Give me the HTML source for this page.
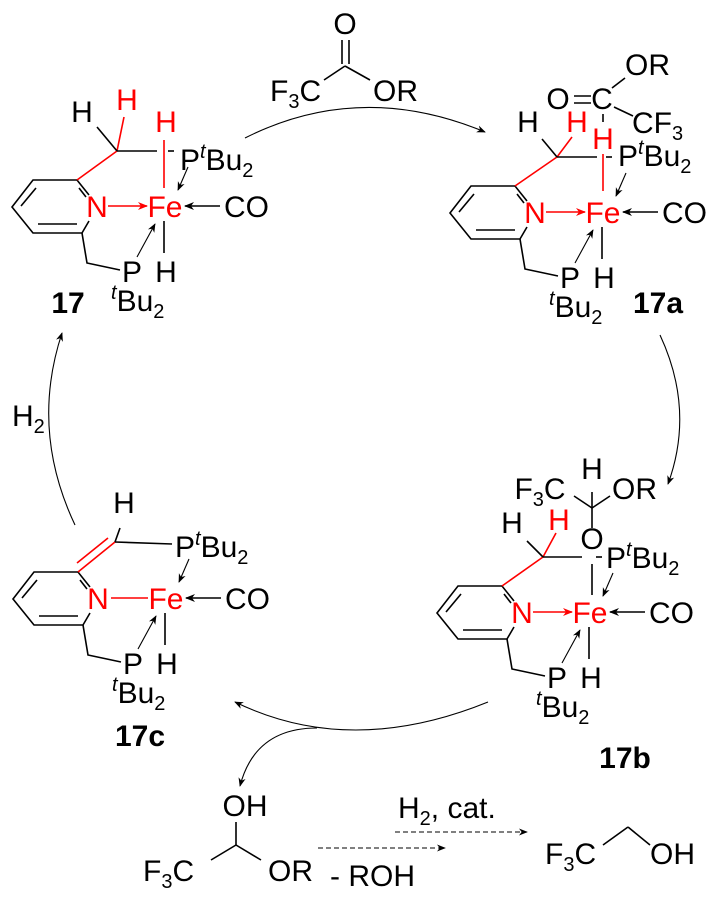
<!DOCTYPE html>
<html><head><meta charset="utf-8"><style>
html,body{margin:0;padding:0;background:#fff}
svg{display:block}
text{font-family:"Liberation Sans",Arial,sans-serif;font-size:30px;fill:#000}
.r{fill:#f00}
.b{font-weight:bold}
line,polyline,path{stroke:#000;stroke-width:1.6;fill:none}
.rl{stroke:#f00}
.thin{stroke-width:1.1}
</style></head><body>
<svg width="719" height="900" viewBox="0 0 719 900" xmlns="http://www.w3.org/2000/svg">
<defs>
<marker id="ah" viewBox="0 0 10 10" refX="9" refY="5" markerWidth="9" markerHeight="9" markerUnits="userSpaceOnUse" orient="auto"><path d="M0,1 L10,5 L0,9 L3,5 Z" style="fill:#000;stroke:none"/></marker>
<marker id="ahr" viewBox="0 0 10 10" refX="9" refY="5" markerWidth="10" markerHeight="10" markerUnits="userSpaceOnUse" orient="auto"><path d="M0,1 L10,5 L0,9 L3,5 Z" style="fill:#f00;stroke:none"/></marker>
<marker id="ahb" viewBox="0 0 10 10" refX="9" refY="5" markerWidth="10" markerHeight="10" markerUnits="userSpaceOnUse" orient="auto"><path d="M0,1 L10,5 L0,9 L3,5 Z" style="fill:#000;stroke:none"/></marker>
<g id="core">
<polyline points="89,195 77,180 33,180 12,207 33,233 82,233 89,221"/>
<line x1="21" y1="206" x2="36" y2="188"/>
<line x1="38" y1="224" x2="77" y2="224"/>
<line x1="79" y1="188" x2="86" y2="197"/>
<polyline points="82,233 87,263 120,270"/>
<text x="132" y="282" text-anchor="middle">P</text>
<text x="111" y="311"><tspan font-style="italic" font-size="20" dy="-12">t</tspan><tspan dy="12">Bu</tspan><tspan font-size="20" dy="7">2</tspan></text>
<line x1="137" y1="257" x2="155" y2="224" class="thin" marker-end="url(#ah)"/>
<text x="165" y="217" text-anchor="middle" class="r">Fe</text>
<text x="97" y="217" text-anchor="middle" class="r">N</text>
<text x="224" y="217">CO</text>
<line x1="220" y1="206" x2="185" y2="206" marker-end="url(#ahb)"/>
<line x1="164" y1="221" x2="164" y2="253"/>
<text x="166" y="282" text-anchor="middle">H</text>
<line x1="188" y1="167" x2="178" y2="190" class="thin" marker-end="url(#ah)"/>
</g>
</defs>

<!-- 17 -->
<use href="#core"/>
<line x1="108" y1="206" x2="147" y2="206" class="rl" marker-end="url(#ahr)"/>
<line x1="77" y1="180" x2="117" y2="151" class="rl"/>
<line x1="117" y1="151" x2="124" y2="117" class="rl"/>
<line x1="117" y1="151" x2="97" y2="127"/>
<text x="82" y="122" text-anchor="middle">H</text>
<text x="127" y="110" text-anchor="middle" class="r">H</text>
<line x1="117" y1="151" x2="157" y2="151"/>
<line x1="168" y1="151" x2="174" y2="151"/>
<line x1="164" y1="140" x2="164" y2="188" class="rl"/>
<text x="166" y="132" text-anchor="middle" class="r">H</text>
<text x="180" y="170">P<tspan font-style="italic" font-size="20" dy="-12">t</tspan><tspan dy="12">Bu</tspan><tspan font-size="20" dy="7">2</tspan></text>
<text x="68" y="313" text-anchor="middle" class="b">17</text>

<!-- 17a -->
<g transform="translate(438,6)"><use href="#core"/>
<line x1="108" y1="206" x2="147" y2="206" class="rl" marker-end="url(#ahr)"/>
<line x1="77" y1="180" x2="119" y2="151" class="rl"/></g>
<line x1="557" y1="157" x2="572" y2="137" class="rl"/>
<line x1="557" y1="157" x2="542" y2="139"/>
<text x="528" y="132" text-anchor="middle">H</text>
<text x="577" y="132" text-anchor="middle" class="r">H</text>
<line x1="557" y1="157" x2="597" y2="157"/>
<line x1="606" y1="157" x2="612" y2="157"/>
<text x="603" y="149" text-anchor="middle" class="r">H</text>
<line x1="603" y1="154" x2="603" y2="191" class="rl"/>
<text x="618" y="166">P<tspan font-style="italic" font-size="20" dy="-12">t</tspan><tspan dy="12">Bu</tspan><tspan font-size="20" dy="7">2</tspan></text>
<text x="558" y="109" text-anchor="middle">O</text>
<line x1="574" y1="96" x2="591" y2="96"/>
<line x1="574" y1="103" x2="591" y2="103"/>
<text x="602" y="109" text-anchor="middle">C</text>
<line x1="603" y1="114" x2="603" y2="122"/>
<line x1="612" y1="88" x2="625" y2="78"/>
<text x="625" y="75">OR</text>
<line x1="614" y1="107" x2="633" y2="116"/>
<text x="632" y="133">CF<tspan font-size="20" dy="7">3</tspan></text>
<text x="658" y="313" text-anchor="middle" class="b">17a</text>

<!-- 17b -->
<g transform="translate(425,406)"><use href="#core"/>
<line x1="108" y1="206" x2="147" y2="206" class="rl" marker-end="url(#ahr)"/>
<line x1="77" y1="180" x2="118" y2="151" class="rl"/></g>
<line x1="543" y1="557" x2="556" y2="533" class="rl"/>
<line x1="543" y1="557" x2="527" y2="541"/>
<text x="512" y="533" text-anchor="middle">H</text>
<text x="559" y="530" text-anchor="middle" class="r">H</text>
<line x1="543" y1="557" x2="582" y2="557"/>
<line x1="596" y1="557" x2="602" y2="557"/>
<text x="592" y="549" text-anchor="middle">O</text>
<line x1="592" y1="564" x2="592" y2="595"/>
<line x1="592" y1="528" x2="592" y2="508"/>
<line x1="592" y1="508" x2="592" y2="492"/>
<text x="592" y="479" text-anchor="middle">H</text>
<line x1="592" y1="508" x2="610" y2="496"/>
<text x="612" y="499">OR</text>
<line x1="592" y1="508" x2="574" y2="496"/>
<text x="540" y="499" text-anchor="middle">F<tspan font-size="20" dy="7">3</tspan><tspan dy="-7">C</tspan></text>
<text x="606" y="568">P<tspan font-style="italic" font-size="20" dy="-12">t</tspan><tspan dy="12">Bu</tspan><tspan font-size="20" dy="7">2</tspan></text>
<text x="625" y="768" text-anchor="middle" class="b">17b</text>

<!-- 17c -->
<g transform="translate(1,392)"><use href="#core"/>
<line x1="110" y1="206" x2="147" y2="206" class="rl"/></g>
<line x1="78" y1="572" x2="115" y2="542" class="rl"/>
<line x1="77" y1="563" x2="108" y2="538" class="rl"/>
<line x1="115" y1="542" x2="120" y2="528"/>
<text x="124" y="513" text-anchor="middle">H</text>
<line x1="115" y1="542" x2="172" y2="544"/>
<text x="175" y="557">P<tspan font-style="italic" font-size="20" dy="-12">t</tspan><tspan dy="12">Bu</tspan><tspan font-size="20" dy="7">2</tspan></text>
<text x="140" y="746" text-anchor="middle" class="b">17c</text>

<!-- top reagent -->
<text x="270" y="101">F<tspan font-size="20" dy="7">3</tspan><tspan dy="-7">C</tspan></text>
<line x1="324" y1="80" x2="345" y2="66"/>
<line x1="345" y1="66" x2="370" y2="80"/>
<line x1="342" y1="40" x2="342" y2="64"/>
<line x1="349" y1="40" x2="349" y2="64"/>
<text x="345" y="34" text-anchor="middle">O</text>
<text x="373" y="101">OR</text>

<!-- cycle arcs -->
<path d="M245,138 Q360,80 485,132" class="thin" marker-end="url(#ah)"/>
<path d="M660,335 Q695,410 668,484" class="thin" marker-end="url(#ah)"/>
<path d="M488,702 Q350,758 235,702" class="thin" marker-end="url(#ah)"/>
<path d="M317,728 Q255,728 240,786" class="thin" marker-end="url(#ah)"/>
<path d="M75,525 Q30,430 62,333" class="thin" marker-end="url(#ah)"/>
<text x="12" y="426">H<tspan font-size="20" dy="7">2</tspan></text>

<!-- bottom -->
<text x="245" y="816" text-anchor="middle">OH</text>
<line x1="236" y1="822" x2="236" y2="845"/>
<line x1="236" y1="845" x2="211" y2="860"/>
<line x1="236" y1="845" x2="261" y2="860"/>
<text x="143" y="881">F<tspan font-size="20" dy="7">3</tspan><tspan dy="-7">C</tspan></text>
<text x="268" y="881">OR</text>
<line x1="318" y1="848" x2="445" y2="848" stroke-dasharray="5,3" class="thin" marker-end="url(#ah)"/>
<text x="330" y="886">- ROH</text>
<line x1="395" y1="832" x2="527" y2="832" stroke-dasharray="5,3" class="thin" marker-end="url(#ah)"/>
<text x="398" y="818">H<tspan font-size="20" dy="7">2</tspan><tspan dy="-7">, cat.</tspan></text>
<text x="545" y="864">F<tspan font-size="20" dy="7">3</tspan><tspan dy="-7">C</tspan></text>
<line x1="603" y1="845" x2="628" y2="827"/>
<line x1="628" y1="827" x2="650" y2="845"/>
<text x="650" y="864">OH</text>
</svg>
</body></html>
